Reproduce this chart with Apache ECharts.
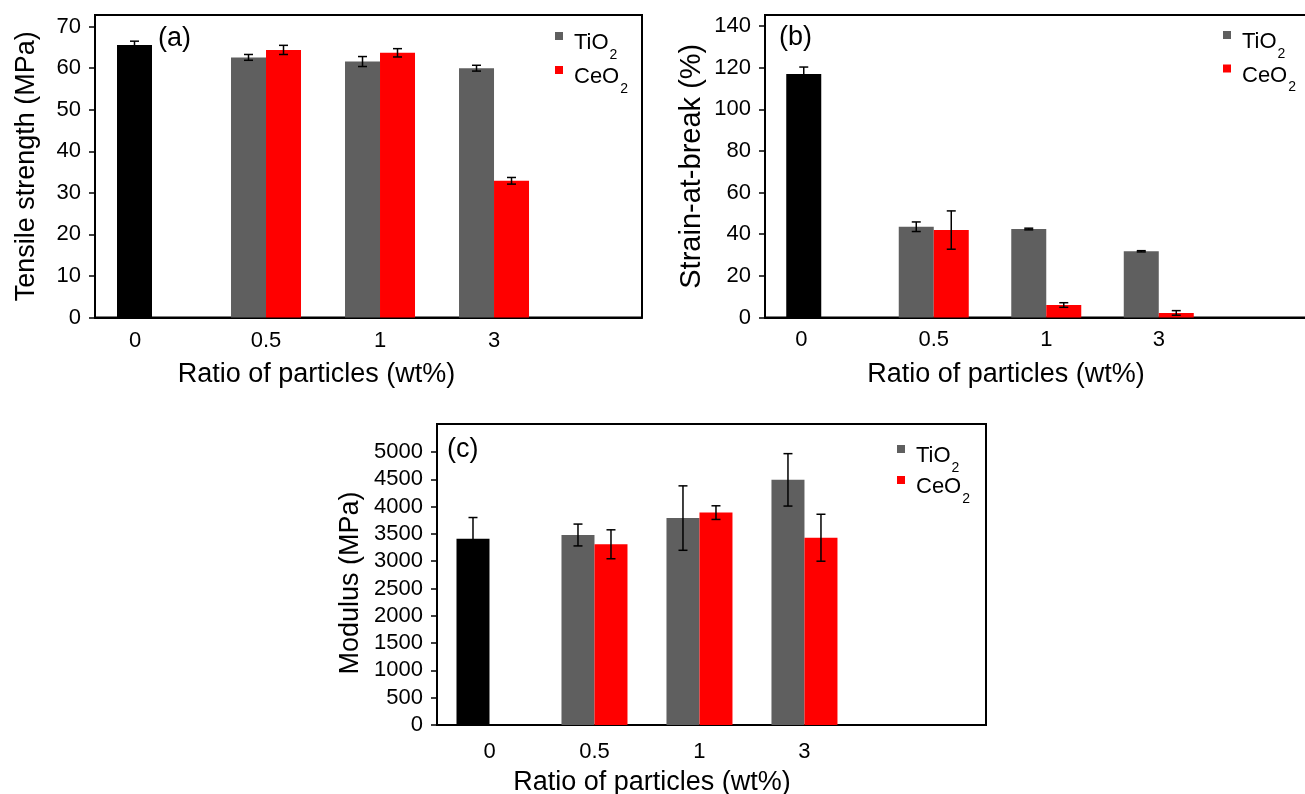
<!DOCTYPE html>
<html>
<head>
<meta charset="utf-8">
<title>Tensile properties</title>
<script src="https://cdn.jsdelivr.net/npm/echarts/dist/echarts.min.js"></script>
<style>
  html, body { margin: 0; padding: 0; background: #fff; }
  #main { width: 1305px; height: 794px; }
</style>
</head>
<body>
<div id="main"></div>
<script>
var ratios = ['0', '0.5', '1', '3'];

// (a) tensile strength, MPa
var tensileNeat = [65.6, null, null, null];
var tensileNeatErr = [0.9, null, null, null];
var tensileTiO2 = [null, 62.6, 61.6, 60.0];
var tensileTiO2Err = [null, 0.7, 1.2, 0.7];
var tensileCeO2 = [null, 64.4, 63.7, 32.9];
var tensileCeO2Err = [null, 1.1, 1.0, 0.8];
var tensileTicks = [0, 10, 20, 30, 40, 50, 60, 70];

// (b) strain at break, %
var strainNeat = [117.0, null, null, null];
var strainNeatErr = [3.3, null, null, null];
var strainTiO2 = [null, 43.6, 42.5, 31.8];
var strainTiO2Err = [null, 2.3, 0.4, 0.3];
var strainCeO2 = [null, 42.0, 6.0, 2.2];
var strainCeO2Err = [null, 9.2, 1.1, 1.1];
var strainTicks = [0, 20, 40, 60, 80, 100, 120, 140];

// (c) modulus, MPa
var modulusNeat = [3410, null, null, null];
var modulusNeatErr = [390, null, null, null];
var modulusTiO2 = [null, 3480, 3790, 4490];
var modulusTiO2Err = [null, 200, 590, 480];
var modulusCeO2 = [null, 3310, 3890, 3430];
var modulusCeO2Err = [null, 265, 125, 430];
var modulusTicks = [0, 500, 1000, 1500, 2000, 2500, 3000, 3500, 4000, 4500, 5000];

var FONT = '"Liberation Sans", Arial, sans-serif';
var GRAY = '#5f5f5f', RED = '#ff0000', BLACK = '#000000';

var panels = [
    {
        tag: '(a)', tagLeft: 158, tagTop: 25,
        left: 95, top: 15, width: 547, height: 302.5,
        xMax: 4.298, yMax: 72.8, barWidth: 35,
        yName: 'Tensile strength (MPa)', yNameSize: 27, yNameGap: 55, yNamePad: [0, 0, 0, 0],
        xNamePad: [0, 104, 0, 0], xLabelMargin: 12, zeroShift: 17,
        legendLeft: 555, legendTop: 25, legendGap: -3,
        neat: tensileNeat, neatErr: tensileNeatErr,
        tio2: tensileTiO2, tio2Err: tensileTiO2Err,
        ceo2: tensileCeO2, ceo2Err: tensileCeO2Err, ticks: tensileTicks
    },
    {
        tag: '(b)', tagLeft: 779, tagTop: 24,
        left: 765, top: 15, width: 547, height: 302.5,
        xMax: 4.362, yMax: 145.3, barWidth: 35,
        yName: 'Strain-at-break (%)', yNameSize: 29, yNameGap: 59, yNamePad: [0, 0, 0, 0],
        xNamePad: [0, 65, 0, 0], xLabelMargin: 11, zeroShift: 20,
        legendLeft: 1223, legendTop: 24, legendGap: -3.5,
        neat: strainNeat, neatErr: strainNeatErr,
        tio2: strainTiO2, tio2Err: strainTiO2Err,
        ceo2: strainCeO2, ceo2Err: strainCeO2Err, ticks: strainTicks
    },
    {
        tag: '(c)', tagLeft: 447, tagTop: 436,
        left: 437, top: 424, width: 549, height: 301,
        xMax: 4.729, yMax: 5513, barWidth: 33,
        yName: 'Modulus (MPa)', yNameSize: 27, yNameGap: 73, yNamePad: [0, 17, 0, 0],
        xNamePad: [0, 119, 0, 0], xLabelMargin: 16, zeroShift: 0,
        legendLeft: 897, legendTop: 438, legendGap: -6,
        neat: modulusNeat, neatErr: modulusNeatErr,
        tio2: modulusTiO2, tio2Err: modulusTiO2Err,
        ceo2: modulusCeO2, ceo2Err: modulusCeO2Err, ticks: modulusTicks
    }
];

function pairs(values) {
    return values.map(function (v, k) { return [k, v]; });
}

function errorBars(i, values, errors, offset) {
    var data = [];
    values.forEach(function (v, k) {
        if (v != null) data.push([k, v, errors[k]]);
    });
    return {
        type: 'custom',
        xAxisIndex: i,
        yAxisIndex: i,
        silent: true,
        z: 5,
        encode: { x: 0, y: 1 },
        renderItem: function (params, api) {
            var x = api.value(0), y = api.value(1), e = api.value(2);
            var hi = api.coord([x, y + e]);
            var lo = api.coord([x, y - e]);
            var cx = hi[0] + offset;
            var cap = 4.5;
            var st = { stroke: '#000', lineWidth: 1.5 };
            return {
                type: 'group',
                children: [
                    { type: 'line', shape: { x1: cx, y1: hi[1], x2: cx, y2: lo[1] }, style: st },
                    { type: 'line', shape: { x1: cx - cap, y1: hi[1], x2: cx + cap, y2: hi[1] }, style: st },
                    { type: 'line', shape: { x1: cx - cap, y1: lo[1], x2: cx + cap, y2: lo[1] }, style: st }
                ]
            };
        },
        data: data
    };
}

var option = {
    animation: false,
    backgroundColor: '#fff',
    textStyle: { fontFamily: FONT, color: '#000' },
    title: [],
    legend: [],
    grid: [],
    xAxis: [],
    yAxis: [],
    series: []
};

panels.forEach(function (p, i) {
    var half = p.barWidth / 2;

    option.title.push({
        text: p.tag, left: p.tagLeft, top: p.tagTop, padding: 0,
        textStyle: { fontFamily: FONT, fontSize: 27, fontWeight: 'normal', color: '#000' }
    });

    option.legend.push({
        orient: 'vertical',
        left: p.legendLeft, top: p.legendTop,
        padding: 0,
        itemGap: p.legendGap,
        itemWidth: 8, itemHeight: 8,
        icon: 'rect',
        selectedMode: false,
        data: ['TiO2', 'CeO2'],
        formatter: function (name) {
            return '{m|' + name.slice(0, -1) + '}{s|2}';
        },
        textStyle: {
            fontFamily: FONT,
            color: '#000',
            rich: {
                m: { fontFamily: FONT, fontSize: 22, lineHeight: 22, color: '#000',
                     padding: [7, 0, 0, 6], verticalAlign: 'top' },
                s: { fontFamily: FONT, fontSize: 14, lineHeight: 14, color: '#000',
                     padding: [23, 0, 0, 1], verticalAlign: 'top' }
            }
        }
    });

    option.grid.push({
        left: p.left, top: p.top, width: p.width, height: p.height,
        containLabel: false,
        outerBoundsMode: 'none',
        show: true,
        borderColor: '#000',
        borderWidth: 2,
        backgroundColor: 'transparent'
    });

    option.xAxis.push({
        type: 'value',
        gridIndex: i,
        min: -0.5,
        max: p.xMax,
        name: 'Ratio of particles (wt%)',
        nameLocation: 'middle',
        nameGap: 44,
        nameTextStyle: { fontFamily: FONT, fontSize: 27, color: '#000', padding: p.xNamePad },
        axisLine: { show: true, onZero: false, lineStyle: { color: '#000', width: 2 } },
        axisTick: { show: false },
        splitLine: { show: false },
        axisLabel: {
            customValues: [0, 1, 2, 3],
            margin: p.xLabelMargin,
            fontFamily: FONT,
            fontSize: 22,
            color: '#000',
            formatter: function (v) {
                if (v === 0 && p.zeroShift) return '{z|' + ratios[0] + '}';
                return ratios[v];
            },
            rich: {
                z: { fontFamily: FONT, fontSize: 22, color: '#000', padding: [0, p.zeroShift * 2, 0, 0] }
            }
        }
    });

    option.yAxis.push({
        type: 'value',
        gridIndex: i,
        min: 0,
        max: p.yMax,
        name: p.yName,
        nameLocation: 'middle',
        nameGap: p.yNameGap,
        nameTextStyle: { fontFamily: FONT, fontSize: p.yNameSize, color: '#000', padding: p.yNamePad },
        axisLine: { show: true, onZero: false, lineStyle: { color: '#000', width: 2 } },
        axisTick: { show: true, inside: false, length: 6, customValues: p.ticks,
                    lineStyle: { color: '#000', width: 1.5 } },
        splitLine: { show: false },
        axisLabel: {
            customValues: p.ticks, margin: 14, fontFamily: FONT, fontSize: 22, color: '#000',
            formatter: function (v) { return String(v); }
        }
    });

    option.series.push({
        type: 'bar', name: 'TiO2', xAxisIndex: i, yAxisIndex: i,
        stack: 'left' + i, barWidth: p.barWidth, barGap: 0,
        itemStyle: { color: GRAY }, data: pairs(p.tio2)
    });
    option.series.push({
        type: 'bar', name: 'Neat', xAxisIndex: i, yAxisIndex: i,
        stack: 'left' + i, barWidth: p.barWidth, barGap: 0,
        itemStyle: { color: BLACK }, data: pairs(p.neat)
    });
    option.series.push({
        type: 'bar', name: 'CeO2', xAxisIndex: i, yAxisIndex: i,
        barWidth: p.barWidth, barGap: 0,
        itemStyle: { color: RED }, data: pairs(p.ceo2)
    });

    option.series.push(errorBars(i, p.tio2, p.tio2Err, -half));
    option.series.push(errorBars(i, p.neat, p.neatErr, -half));
    option.series.push(errorBars(i, p.ceo2, p.ceo2Err, half));
});

var myChart = echarts.init(document.getElementById('main'));
option && myChart.setOption(option);
</script>
</body>
</html>
